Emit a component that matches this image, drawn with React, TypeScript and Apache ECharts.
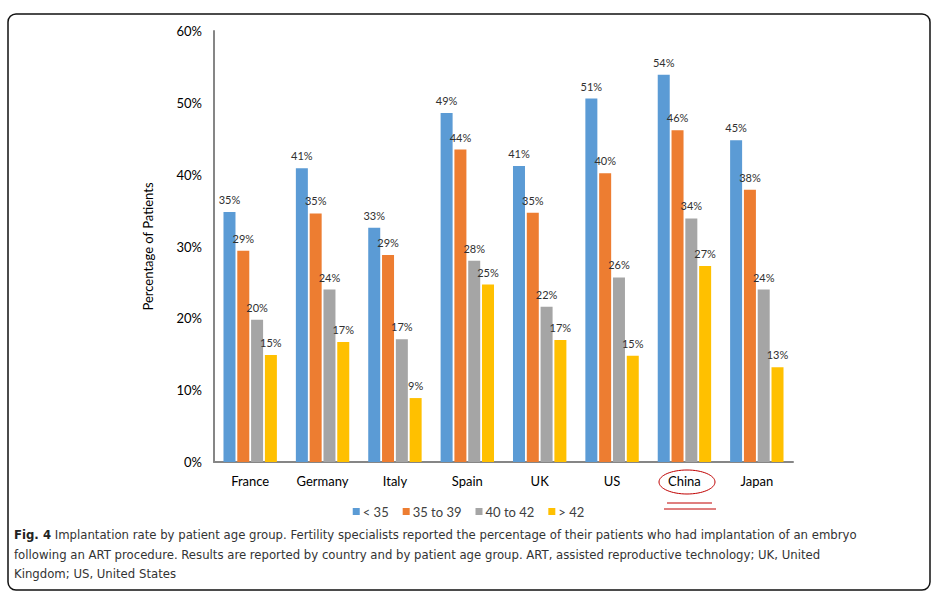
import React, { useEffect, useRef } from "react";
import * as echarts from "echarts";

const countries = ["France", "Germany", "Italy", "Spain", "UK", "US", "China", "Japan"];
const seriesNames = ["< 35", "35 to 39", "40 to 42", "> 42"];
const under35 = [34.8, 40.9, 32.6, 48.6, 41.2, 50.6, 53.9, 44.8];
const from35to39 = [29.4, 34.6, 28.8, 43.5, 34.7, 40.2, 46.2, 37.9];
const from40to42 = [19.8, 24.0, 17.1, 28.0, 21.6, 25.7, 33.9, 24.0];
const over42 = [14.9, 16.7, 8.9, 24.7, 17.0, 14.8, 27.3, 13.2];
const yTicks = [0, 10, 20, 30, 40, 50, 60];
const captionLines = [
  "Implantation rate by patient age group. Fertility specialists reported the percentage of their patients who had implantation of an embryo",
  "following an ART procedure. Results are reported by country and by patient age group. ART, assisted reproductive technology; UK, United",
  "Kingdom; US, United States",
];

const colors = ["#5B9BD5", "#ED7D31", "#A5A5A5", "#FFC000"];
const FONT = "Lato, 'Open Sans', sans-serif";
const CAP_FONT = "'DejaVu Sans Condensed', 'Liberation Sans', sans-serif";

export default function App() {
  const ref = useRef<HTMLDivElement>(null);
  useEffect(() => {
    if (!ref.current) return;
    const chart = echarts.init(ref.current, undefined, { renderer: "svg" });
    const values = [under35, from35to39, from40to42, over42];
    chart.setOption({
      animation: false,
      backgroundColor: "#ffffff",
      color: colors,
      grid: { left: 214, top: 31, right: 144, bottom: 134, containLabel: false },
      legend: {
        top: 500,
        left: "center",
        icon: "rect",
        itemWidth: 7,
        itemHeight: 7,
        itemGap: 14,
        textStyle: { fontFamily: FONT, fontSize: 13, color: "#404040", padding: [0, 0, 0, -2] },
        data: seriesNames,
      },
      xAxis: {
        type: "category",
        data: countries,
        axisLine: { lineStyle: { color: "#868686", width: 2 } },
        axisTick: { show: false },
        axisLabel: { fontFamily: FONT, fontSize: 13, color: "#000", margin: 12 },
      },
      yAxis: {
        type: "value",
        min: yTicks[0],
        max: yTicks[yTicks.length - 1],
        interval: 10,
        name: "Percentage of Patients",
        nameLocation: "middle",
        nameRotate: 90,
        nameGap: 60,
        nameTextStyle: { fontFamily: FONT, fontSize: 13, color: "#000" },
        axisLine: { show: true, lineStyle: { color: "#868686", width: 2 } },
        axisTick: { show: false },
        splitLine: { show: false },
        axisLabel: { fontFamily: FONT, fontSize: 13, color: "#000", margin: 12, formatter: "{value}%" },
      },
      series: seriesNames.map((name, i) => ({
        name,
        type: "bar",
        data: values[i],
        barWidth: 12,
        barGap: "15%",
        label: {
          show: true,
          position: "top",
          distance: 7,
          fontFamily: FONT,
          fontSize: 11,
          color: "#303030",
          formatter: (p: any) => Math.round(p.value) + "%",
        },
      })),
      graphic: [
        {
          type: "rect",
          shape: { x: 8, y: 14, width: 922, height: 576, r: 8 },
          style: { fill: "none", stroke: "#111", lineWidth: 1.5 },
          silent: true,
        },
        {
          type: "ellipse",
          shape: { cx: 687, cy: 482, rx: 28, ry: 12 },
          style: { fill: "none", stroke: "#C00000", lineWidth: 1 },
        },
        {
          type: "line",
          shape: { x1: 667, y1: 503, x2: 712, y2: 503 },
          style: { stroke: "#C00000", lineWidth: 1 },
        },
        {
          type: "line",
          shape: { x1: 664, y1: 509, x2: 716, y2: 509 },
          style: { stroke: "#C00000", lineWidth: 1 },
        },
        {
          type: "text",
          x: 14,
          y: 534,
          style: {
            text: "{b|Fig. 4} " + captionLines[0],
            rich: {
              b: { fontFamily: CAP_FONT, fontWeight: "bold", fontSize: 13, fill: "#222" },
            },
            fontFamily: CAP_FONT,
            fontSize: 13,
            fill: "#333",
            verticalAlign: "middle",
          },
        },
        {
          type: "text",
          x: 14,
          y: 554,
          style: { text: captionLines[1], fontFamily: CAP_FONT, fontSize: 13, fill: "#333", verticalAlign: "middle" },
        },
        {
          type: "text",
          x: 14,
          y: 573,
          style: { text: captionLines[2], fontFamily: CAP_FONT, fontSize: 13, fill: "#333", verticalAlign: "middle" },
        },
      ],
    });
    return () => chart.dispose();
  }, []);
  return (
    <div
      ref={ref}
      style={{ position: "fixed", left: 0, top: 0, width: 937, height: 596, background: "#fff" }}
    />
  );
}
